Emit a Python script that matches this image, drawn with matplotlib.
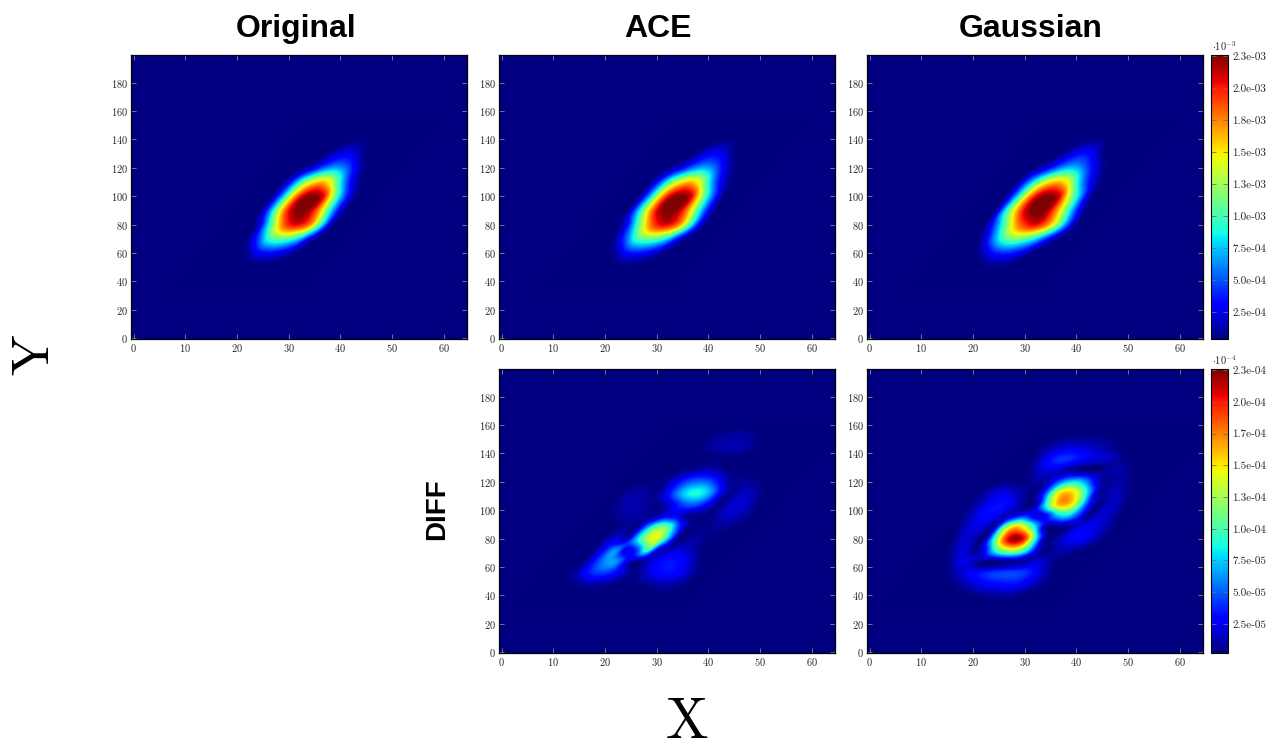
"""Original / ACE / Gaussian density maps with their differences."""
import numpy as np
import matplotlib; matplotlib.use("Agg")
import matplotlib.pyplot as plt
from matplotlib.transforms import Affine2D

plt.rcParams["font.family"] = ["cmr10", "DejaVu Sans"]
plt.rcParams["axes.formatter.use_mathtext"] = True
plt.rcParams["mathtext.fontset"] = "cm"

W, H = 1277, 751
# values are fractions of the colorbar top, read by eye along rows of constant Y.
# columns are offsets in X from the tilted ridge of the blob, so contours stay smooth.
top_d = [-12, -10, -8, -6, -4, -2, 0, 2, 4, 6, 8, 10, 12]
top_y = [40, 50, 60, 70, 80, 90, 100, 110, 120, 130, 140, 150]
top_ridge = (0.22, 12.6)  # X of ridge = slope * Y + intercept
original = [
    [0, 0, 0, 0, 0, 0, 0, 0, 0, 0, 0, 0, 0],
    [0, 0, 0, 0, 0, 0, .005, .005, 0, 0, 0, 0, 0],
    [0, 0, 0, 0, .02, .11, .14, .12, .07, .005, 0, 0, 0],
    [0, 0, 0, .03, .18, .40, .47, .44, .33, .12, .01, 0, 0],
    [0, 0, 0, .07, .38, .70, .88, .89, .76, .42, .07, 0, 0],
    [0, 0, .01, .26, .64, .93, 1.0, .94, .68, .33, .07, 0, 0],
    [0, 0, .02, .26, .64, .92, 1.0, .93, .58, .25, .05, 0, 0],
    [0, 0, .01, .20, .48, .66, .72, .56, .28, .08, .01, 0, 0],
    [0, 0, 0, .04, .12, .24, .30, .25, .12, .02, 0, 0, 0],
    [0, 0, 0, 0, .02, .08, .12, .09, .01, 0, 0, 0, 0],
    [0, 0, 0, 0, 0, .01, .02, .01, 0, 0, 0, 0, 0],
    [0, 0, 0, 0, 0, 0, 0, 0, 0, 0, 0, 0, 0],
]
ace = [
    [0, 0, 0, 0, 0, 0, 0, 0, 0, 0, 0, 0, 0],
    [0, 0, 0, 0, 0, .005, .01, .01, 0, 0, 0, 0, 0],
    [0, 0, 0, 0, .03, .12, .15, .13, .08, .01, 0, 0, 0],
    [0, 0, 0, .04, .21, .42, .48, .45, .35, .15, .02, 0, 0],
    [0, 0, .005, .12, .41, .71, .88, .90, .78, .48, .14, 0, 0],
    [0, 0, .02, .31, .66, .94, 1.0, .95, .71, .38, .10, 0, 0],
    [0, 0, .03, .29, .66, .93, 1.0, .94, .60, .28, .05, 0, 0],
    [0, 0, .02, .22, .49, .66, .72, .58, .30, .10, .02, 0, 0],
    [0, 0, 0, .05, .13, .25, .31, .26, .13, .03, 0, 0, 0],
    [0, 0, 0, 0, .02, .09, .13, .10, .02, 0, 0, 0, 0],
    [0, 0, 0, 0, 0, .01, .025, .015, 0, 0, 0, 0, 0],
    [0, 0, 0, 0, 0, 0, 0, 0, 0, 0, 0, 0, 0],
]
gaussian = [
    [0, 0, 0, 0, 0, 0, 0, 0, 0, 0, 0, 0, 0],
    [0, 0, 0, 0, 0, .01, .02, .02, .005, 0, 0, 0, 0],
    [0, 0, 0, 0, .05, .14, .17, .15, .09, .01, 0, 0, 0],
    [0, 0, 0, .06, .26, .44, .50, .46, .36, .19, .05, 0, 0],
    [0, 0, .01, .20, .46, .72, .86, .90, .78, .55, .24, .01, 0],
    [0, 0, .03, .38, .70, .95, 1.02, .97, .74, .44, .15, 0, 0],
    [0, 0, .05, .34, .70, .94, 1.0, .94, .62, .33, .06, 0, 0],
    [0, 0, .04, .26, .50, .67, .72, .60, .33, .13, .03, 0, 0],
    [0, 0, .005, .06, .15, .27, .33, .28, .15, .05, 0, 0, 0],
    [0, 0, 0, 0, .03, .10, .15, .12, .03, 0, 0, 0, 0],
    [0, 0, 0, 0, 0, .015, .03, .02, .005, 0, 0, 0, 0],
    [0, 0, 0, 0, 0, 0, 0, 0, 0, 0, 0, 0, 0],
]

diff_d = [-14, -12, -10, -8, -6, -4, -2, 0, 2, 4, 6, 8, 10, 12, 14, 16, 18]
diff_y = [32, 40, 48, 56, 64, 72, 80, 88, 96, 104, 112, 120, 128, 136, 144, 152, 160]
diff_ridge = (0.25, 8.0)
diff_ace = [
    [0, 0, 0, 0, 0, 0, 0, 0, 0, 0, 0, 0, 0, 0, 0, 0, 0],
    [0, 0, 0, 0, 0, 0, 0, 0, 0, 0, 0, 0, 0, 0, 0, 0, 0],
    [0, 0, 0, 0, .01, .04, .04, .03, .01, .005, .01, .02, .04, .05, .03, .01, 0],
    [0, 0, 0, .03, .12, .18, .18, .13, .05, .02, .08, .12, .14, .12, .07, .01, 0],
    [0, 0, 0, .03, .16, .27, .28, .12, .02, .06, .12, .15, .14, .09, .02, 0, 0],
    [0, 0, 0, .03, .16, .28, .10, .18, .42, .10, .06, .09, .07, .02, 0, 0, 0],
    [0, 0, 0, .03, .10, .06, .32, .55, .62, .32, .02, .03, .04, .01, 0, 0, 0],
    [0, 0, 0, .01, .03, .03, .28, .50, .48, .20, .02, .02, .02, .03, .02, 0, 0],
    [0, 0, .02, .04, .04, .03, .05, .12, .10, .02, .02, .01, .05, .07, .05, .02, 0],
    [0, .02, .05, .05, .03, .02, .07, .16, .22, .20, .10, .02, .07, .08, .05, .01, 0],
    [0, .03, .04, .03, .02, .12, .26, .37, .39, .30, .13, .02, .06, .06, .02, 0, 0],
    [0, .01, .01, .01, .04, .13, .21, .24, .22, .13, .03, .03, .03, .01, 0, 0, 0],
    [0, 0, 0, 0, .01, .03, .05, .06, .04, .01, .01, .01, 0, 0, 0, 0, 0],
    [0, 0, 0, 0, 0, 0, .01, .01, .01, .01, 0, 0, 0, 0, 0, 0, 0],
    [0, 0, 0, 0, .01, .03, .04, .05, .05, .03, .01, 0, 0, 0, 0, 0, 0],
    [0, 0, 0, 0, .01, .03, .04, .04, .03, .01, 0, 0, 0, 0, 0, 0, 0],
    [0, 0, 0, 0, 0, 0, 0, 0, 0, 0, 0, 0, 0, 0, 0, 0, 0],
]
diff_gaussian = [
    [0, 0, 0, 0, 0, 0, 0, 0, 0, 0, 0, 0, 0, 0, 0, 0, 0],
    [0, 0, 0, 0, 0, 0, 0, 0, .01, .02, .03, .03, .02, .01, 0, 0, 0],
    [0, 0, 0, 0, 0, .01, .04, .08, .11, .13, .14, .14, .10, .05, .01, 0, 0],
    [0, 0, 0, 0, .03, .09, .13, .16, .19, .20, .20, .18, .12, .05, .01, 0, 0],
    [0, 0, 0, .04, .11, .07, .01, .01, .02, .03, .04, .08, .06, .01, 0, 0, 0],
    [0, 0, .03, .10, .03, .10, .38, .55, .58, .42, .12, .01, .04, .05, .03, .01, 0],
    [0, .01, .08, .06, .02, .40, .82, .98, .85, .38, .02, .04, .10, .12, .10, .04, .01],
    [0, .05, .09, .08, .05, .50, .72, .62, .35, .03, .01, .02, .09, .11, .09, .04, .005],
    [.02, .08, .13, .12, .06, .12, .18, .09, .12, .30, .34, .20, .03, .07, .07, .02, 0],
    [.03, .09, .14, .14, .08, .02, .04, .38, .68, .72, .52, .18, .02, .07, .05, .01, 0],
    [.03, .08, .10, .07, .03, .01, .22, .60, .72, .62, .35, .05, .05, .06, .02, 0, 0],
    [.01, .02, .01, .01, .04, .04, .18, .32, .36, .25, .08, .02, .05, .02, 0, 0, 0],
    [0, 0, 0, .05, .09, .08, .04, .02, .01, .01, .03, .05, .02, 0, 0, 0, 0],
    [0, 0, .03, .11, .17, .18, .15, .11, .09, .07, .04, .01, 0, 0, 0, 0, 0],
    [0, 0, .03, .07, .09, .09, .08, .06, .04, .02, 0, 0, 0, 0, 0, 0, 0],
    [0, 0, 0, .01, .02, .02, .015, .01, 0, 0, 0, 0, 0, 0, 0, 0, 0],
    [0, 0, 0, 0, 0, 0, 0, 0, 0, 0, 0, 0, 0, 0, 0, 0, 0],
]

col_titles = ["Original", "ACE", "Gaussian"]
title_centres = [296, 658, 1031]
top_range = (4e-5, 2.26e-3)
diff_range = (2e-6, 2.26e-4)
top_ticks = [2.5e-4, 5e-4, 7.5e-4, 1e-3, 1.25e-3, 1.5e-3, 1.75e-3, 2e-3, 2.25e-3]
top_tick_labels = ["2.5e-04", "5.0e-04", "7.5e-04", "1.0e-03", "1.3e-03", "1.5e-03", "1.8e-03", "2.0e-03", "2.3e-03"]
diff_ticks = [2.5e-5, 5e-5, 7.5e-5, 1e-4, 1.25e-4, 1.5e-4, 1.75e-4, 2e-4, 2.25e-4]
diff_tick_labels = ["2.5e-05", "5.0e-05", "7.5e-05", "1.0e-04", "1.3e-04", "1.5e-04", "1.7e-04", "2.0e-04", "2.3e-04"]
x_ticks = [0, 10, 20, 30, 40, 50, 60]
y_ticks = [0, 20, 40, 60, 80, 100, 120, 140, 160, 180]
INK = "#262626"


def box(x0, y0, x1, y1):
    return [x0 / W, 1 - y1 / H, (x1 - x0) / W, (y1 - y0) / H]


def panel(fig, pos, ds, ys, vals, rng, ridge):
    ax = fig.add_axes(box(*pos))
    ax.set_facecolor(plt.cm.jet(0))
    dd, dy = ds[1] - ds[0], ys[1] - ys[0]
    ext = (ds[0] - dd / 2, ds[-1] + dd / 2, ys[0] - dy / 2, ys[-1] + dy / 2)
    im = ax.imshow(np.array(vals) * rng[1], origin="lower", extent=ext, aspect="auto",
                   cmap="jet", vmin=rng[0], vmax=rng[1], interpolation="catrom",
                   interpolation_stage="data")
    im.set_transform(Affine2D.from_values(1, 0, ridge[0], 1, ridge[1], 0) + ax.transData)
    ax.set_xlim(-0.5, 64.5); ax.set_ylim(-0.5, 199.5)
    ax.set_xticks(x_ticks); ax.set_yticks(y_ticks)
    ax.tick_params(direction="in", top=True, right=True, length=3.5, width=0.6,
                   color="#8c8c78", labelsize=7.5, labelcolor=INK, pad=2)
    for s in ax.spines.values():
        s.set_linewidth(0.9)
    return im


def cbar(fig, im, pos, ticks, labels, exp):
    cax = fig.add_axes(box(*pos))
    cb = fig.colorbar(im, cax=cax)
    cb.set_ticks(ticks, labels=labels)
    cax.tick_params(direction="in", left=True, right=True, length=3.5, width=0.6,
                    color="#707070", labelsize=8, labelcolor=INK, pad=3)
    fig.text((pos[0] + 1) / W, 1 - (pos[1] - 2) / H, r"$\cdot 10^{%d}$" % exp,
             fontsize=7.5, color=INK, ha="left", va="bottom")


fig = plt.figure(figsize=(W / 100, H / 100), dpi=100)
columns = [(131, 467), (499, 835), (867, 1203)]
row1, row2 = (55, 339), (369, 653)

ims = []
for (x0, x1), vals in zip(columns, [original, ace, gaussian]):
    ims.append(panel(fig, (x0, row1[0], x1, row1[1]), top_d, top_y, vals, top_range, top_ridge))
panel(fig, (499, row2[0], 835, row2[1]), diff_d, diff_y, diff_ace, diff_range, diff_ridge)
im_d = panel(fig, (867, row2[0], 1203, row2[1]), diff_d, diff_y, diff_gaussian, diff_range, diff_ridge)

cbar(fig, ims[-1], (1211, 55, 1228, 339), top_ticks, top_tick_labels, -3)
cbar(fig, im_d, (1211, 369, 1228, 653), diff_ticks, diff_tick_labels, -4)

for cx, t in zip(title_centres, col_titles):
    fig.text(cx / W, 1 - 29 / H, t, family="Liberation Sans", fontweight="bold",
             fontsize=23, ha="center", va="center")
fig.text(437 / W, 1 - 509 / H, "DIFF", family="Liberation Sans", fontweight="bold",
         fontsize=20, rotation=90, ha="center", va="center")
fig.text(687 / W, 2 / H, "X", fontsize=41, ha="center", va="bottom")
fig.text(35 / W, 1 - 355 / H, "Y", fontsize=39, rotation=90, ha="center", va="center")

fig.savefig("out.png", dpi=100)
